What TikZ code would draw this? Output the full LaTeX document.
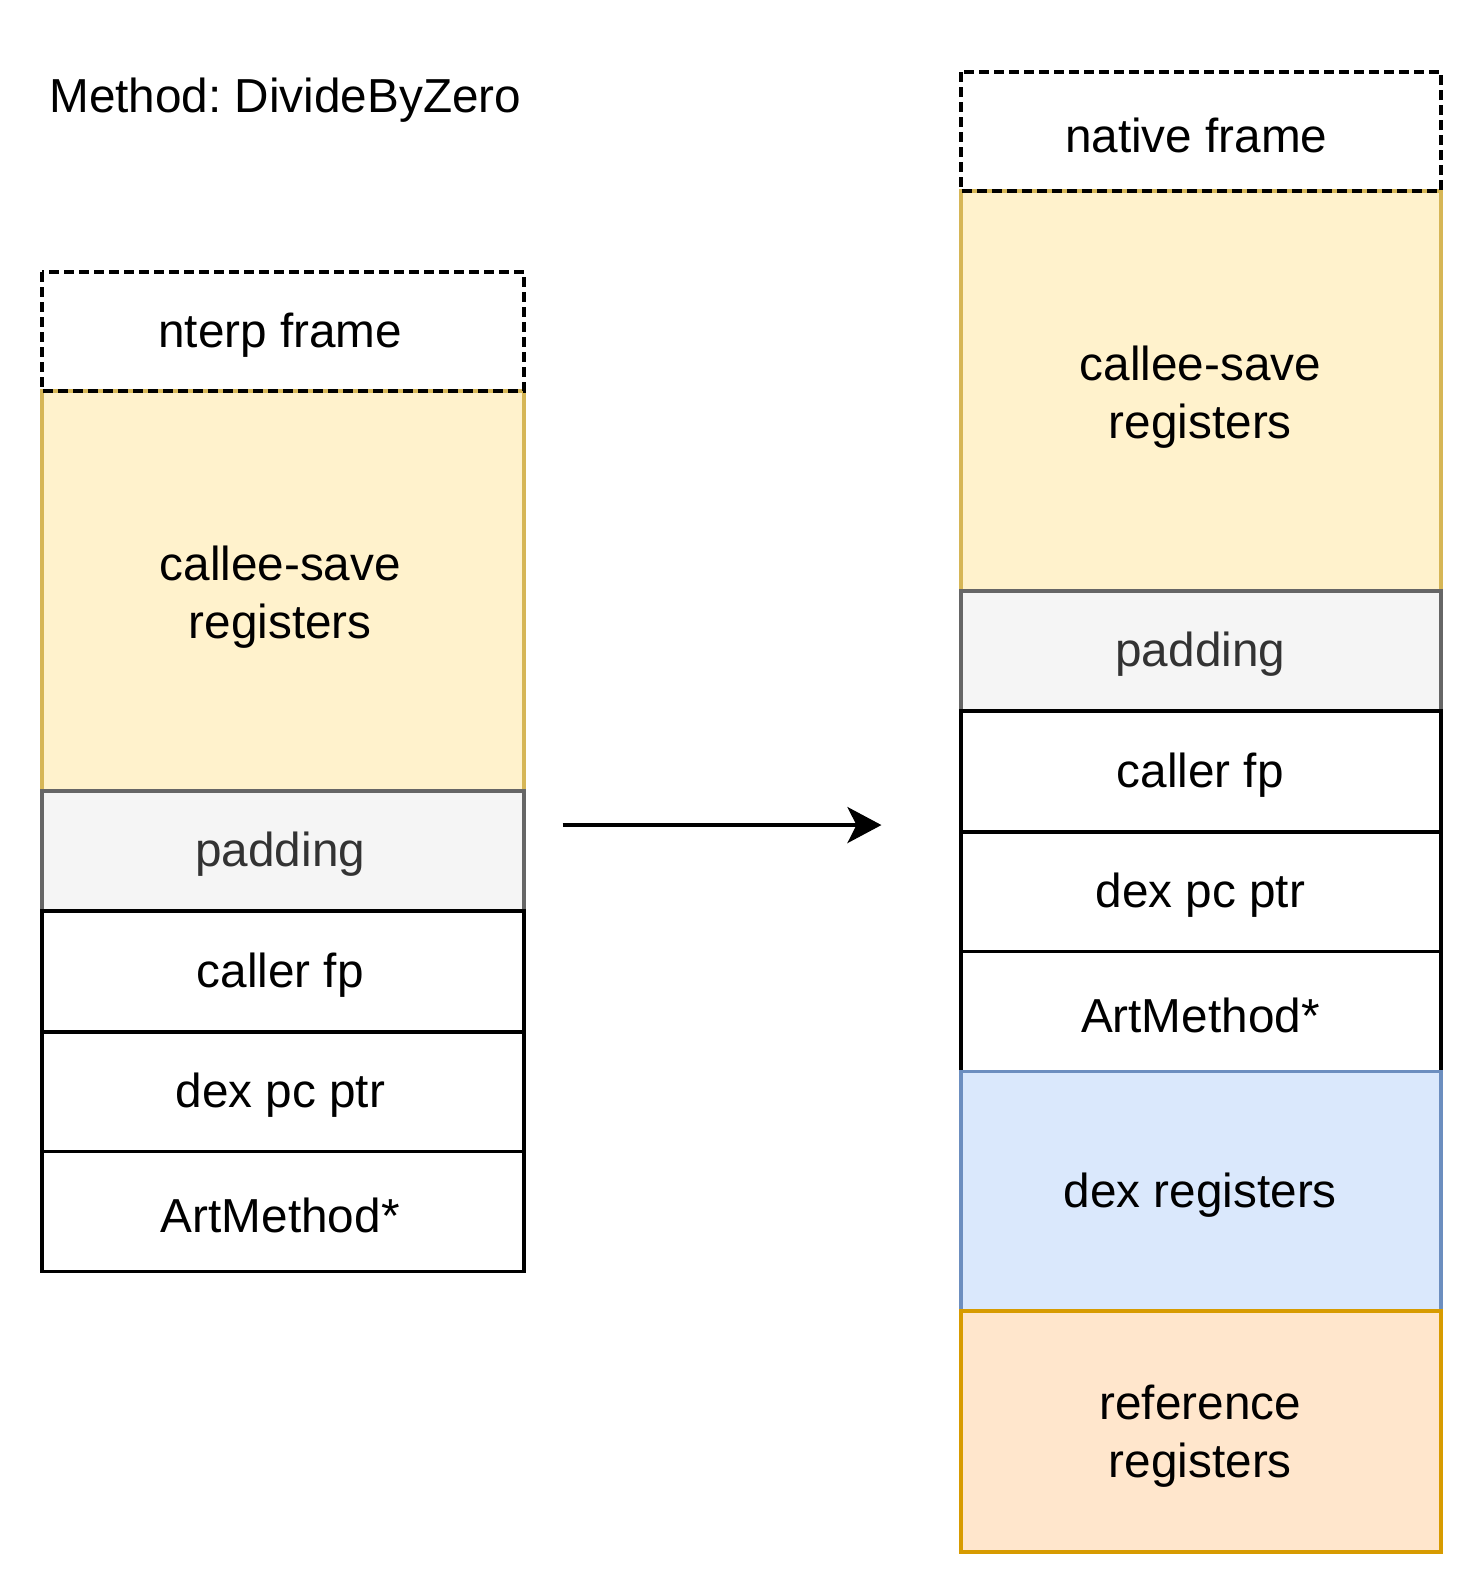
\documentclass[tikz,border=0pt]{standalone}
\usepackage{fontspec}
\setmainfont{Liberation Sans}
\usetikzlibrary{arrows.meta}
\definecolor{yfill}{HTML}{FFF2CC}
\definecolor{ydraw}{HTML}{D6B656}
\definecolor{gfill}{HTML}{F5F5F5}
\definecolor{gdraw}{HTML}{666666}
\definecolor{gtext}{HTML}{333333}
\definecolor{bfill}{HTML}{DAE8FC}
\definecolor{bdraw}{HTML}{6C8EBF}
\definecolor{ofill}{HTML}{FFE6CC}
\definecolor{odraw}{HTML}{D79B00}
\frenchspacing
\begin{document}
\begin{tikzpicture}[x=1.0155pt,y=-1.0155pt,
  every node/.style={font=\fontsize{47.7}{58}\selectfont, align=center, yshift=-3.5pt},
  cell/.style={line width=3.7pt},
  plain/.style={cell, draw=black, fill=white},
  dashbox/.style={line width=3.7pt, draw=black, dash pattern=on 10pt off 5pt},
  yellow/.style={cell, draw=ydraw, fill=yfill},
  grey/.style={cell, draw=gdraw, fill=gfill},
  blue/.style={cell, draw=bdraw, fill=bfill},
  orange/.style={cell, draw=odraw, fill=ofill}]
\useasboundingbox (0,0) rectangle (1461.35,1567.7);
% left column
\def\lx{41.4} \def\rx{516}
\path[yellow] (\lx,385) rectangle (\rx,779);
\node (lcs) at (276,585) {callee-save\\registers};
\path[grey] (\lx,779) rectangle (\rx,897);
\node[text=gtext] (lpad) at (276,838) {padding};
\path[plain] (\lx,897) rectangle (\rx,1016);
\node (lfp) at (276,957) {caller fp};
\path[plain] (\lx,1016) rectangle (\rx,1134);
\node (ldex) at (276,1075) {dex pc ptr};
\path[plain] (\lx,1134) rectangle (\rx,1252);
\node (lart) at (276,1193) {ArtMethod*};
\path[dashbox] (\lx,268) rectangle (\rx,385);
\node (lframe) at (276,327) {nterp frame};
\node (title) at (281,95) {Method: DivideByZero};
% right column
\def\Lx{946} \def\Rx{1419}
\path[yellow] (\Lx,188) rectangle (\Rx,582);
\node (rcs) at (1182,388) {callee-save\\registers};
\path[grey] (\Lx,582) rectangle (\Rx,700);
\node[text=gtext] (rpad) at (1182,641) {padding};
\path[plain] (\Lx,700) rectangle (\Rx,819);
\node (rfp) at (1182,760) {caller fp};
\path[plain] (\Lx,819) rectangle (\Rx,937);
\node (rdex) at (1182,878) {dex pc ptr};
\path[plain] (\Lx,937) rectangle (\Rx,1055);
\node (rart) at (1182,996) {ArtMethod*};
\path[blue] (\Lx,1055) rectangle (\Rx,1291);
\node (rdexreg) at (1182,1173) {dex registers};
\path[orange] (\Lx,1291) rectangle (\Rx,1528);
\node (rref) at (1182,1411) {reference\\registers};
\path[dashbox] (\Lx,71) rectangle (\Rx,188);
\node (rframe) at (1178,130) {native frame};
% arrow
\coordinate (a1) at (554,809);
\coordinate (a2) at (868,809);
\draw[line width=3.7pt, -{Stealth[length=34pt, width=36pt, inset=9pt]}] (a1) -- (a2);
\end{tikzpicture}
\end{document}
